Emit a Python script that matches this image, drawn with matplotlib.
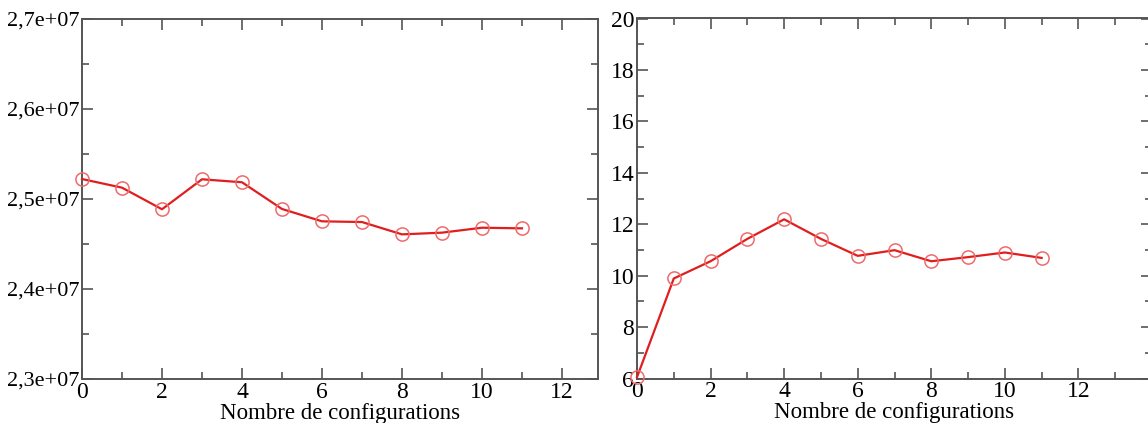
import matplotlib
matplotlib.use("Agg")
import matplotlib.pyplot as plt
from matplotlib.ticker import MultipleLocator

plt.rcParams['font.family'] = ['Liberation Serif', 'DejaVu Serif']

configs = [0, 1, 2, 3, 4, 5, 6, 7, 8, 9, 10, 11]
left_values = [2.5222e7, 2.5126e7, 2.4886e7, 2.5219e7, 2.5186e7, 2.4889e7,
               2.4752e7, 2.4744e7, 2.4607e7, 2.4626e7, 2.4681e7, 2.4674e7]
right_values = [6.05, 9.89, 10.56, 11.43, 12.19, 11.43,
                10.77, 10.99, 10.56, 10.72, 10.90, 10.69]

left_yticks = [2.3e7, 2.4e7, 2.5e7, 2.6e7, 2.7e7]
left_yticklabels = ["2,3e+07", "2,4e+07", "2,5e+07", "2,6e+07", "2,7e+07"]
right_yticks = [6, 8, 10, 12, 14, 16, 18, 20]
xticks = [0, 2, 4, 6, 8, 10, 12]
xlabel = "Nombre de configurations"

W, H = 1148, 423
fig = plt.figure(figsize=(W / 100, H / 100), dpi=100)

ax1 = fig.add_axes([82 / W, 1 - 379 / H, 516 / W, 360 / H])
ax2 = fig.add_axes([637 / W, 1 - 378.5 / H, 515 / W, 360 / H])

line_color = '#e01e1e'
spine_color = '#555555'

for ax, vals in ((ax1, left_values), (ax2, right_values)):
    ax.plot(configs, vals, color=line_color, lw=1.6, marker='o', ms=9.5,
            mfc='none', mec='#f06a6a', mew=1.1, clip_on=False, zorder=3)
    for s in ax.spines.values():
        s.set_color(spine_color)
        s.set_linewidth(1.4)
    ax.tick_params(which='both', direction='in', top=True, right=True,
                   color=spine_color, width=1.2, labelsize=17, pad=2)
    ax.tick_params(which='major', length=8)
    ax.tick_params(which='minor', length=5)
    ax.set_xticks(xticks)
    ax.xaxis.set_minor_locator(MultipleLocator(1))
    ax.set_xlabel(xlabel, fontsize=16.5, labelpad=0)

ax1.set_xlim(0, 12.9)
ax1.set_ylim(2.3e7, 2.7e7)
ax1.set_yticks(left_yticks)
ax1.set_yticklabels(left_yticklabels)
ax1.yaxis.set_minor_locator(MultipleLocator(0.05e7))
ax1.tick_params(axis='y', labelsize=16, pad=2)

ax2.set_xlim(0, 14)
ax2.set_ylim(6, 20)
ax2.set_yticks(right_yticks)
ax2.yaxis.set_minor_locator(MultipleLocator(1))

fig.savefig("out.png", dpi=100)
